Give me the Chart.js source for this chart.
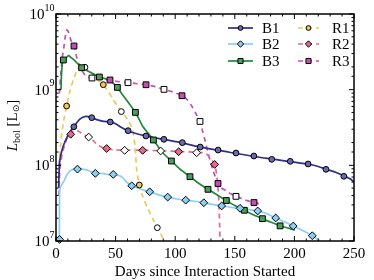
<!DOCTYPE html>
<html><head><meta charset="utf-8">
<script src="https://cdn.jsdelivr.net/npm/chart.js@4"></script>
<style>html,body{margin:0;padding:0;background:#fff}#wrap{width:374px;height:280px;position:relative}</style>
</head><body><div id="wrap"><canvas id="c"></canvas></div>
<script>
// ---------- data (days since interaction started, log10 of L_bol in L_sun) ----------
const seriesNames = ['B1','B2','B3','R1','R2','R3'];
const xTickLabels = [0,50,100,150,200,250];
const yTickExponents = [7,8,9,10];

const b1Days   = [2.2,3,5,8,12,15,20,25,30,35,40,45,50,55,60,67,75,82,90,98,105,113,120,128,135,143,150,158,165,173,181,189,197,205,212,220,227,235,242,247,250];
const b1LogLum = [7.7,8.04,8.2,8.33,8.45,8.51,8.61,8.648,8.63,8.6,8.58,8.575,8.55,8.5,8.46,8.42,8.39,8.365,8.344,8.32,8.30,8.27,8.245,8.22,8.20,8.18,8.16,8.14,8.12,8.10,8.084,8.065,8.048,8.03,8.014,7.985,7.947,7.905,7.86,7.82,7.78];
const b1MarkDays   = [15,30,45.5,60.5,75.5,90.5,106,121,136,151,166,181,196.5,211.5,226.5,241.5];
const b1MarkLogLum = [8.51,8.63,8.573,8.458,8.388,8.344,8.30,8.242,8.202,8.163,8.123,8.079,8.053,8.018,7.947,7.855];

const b2Days   = [2.8,3.0,3.5,5,7,9,12,15,18,22,26,30,35,40,45,50,54,57,59,63.5,70,78.6,86,93.7,101,108.8,116,124,131,139.5,147,154.4,162,169.2,177,184.3,192,199,207,215,221.5];
const b2LogLum = [7.0,7.6,7.7,7.75,7.8,7.87,7.93,7.95,7.96,7.95,7.94,7.91,7.895,7.89,7.875,7.87,7.86,7.82,7.78,7.735,7.69,7.65,7.61,7.58,7.555,7.54,7.525,7.506,7.485,7.463,7.445,7.432,7.415,7.397,7.36,7.304,7.25,7.198,7.14,7.07,7.0];
const b2MarkDays   = [3,18,33,48,63.5,78.6,93.7,108.8,124,139,154.4,169.2,184.3,199,215];
const b2MarkLogLum = [7.02,7.95,7.894,7.88,7.73,7.65,7.58,7.54,7.506,7.463,7.432,7.397,7.304,7.198,7.07];

const b3Days   = [4.2,4.6,5.5,7,9,10.6,13,16,19,21.5,25,30,36.4,42,46,51.5,55,59.3,63,66.6,70,73,77,81.7,86,90,96.8,104,112.4,120,127.5,135,142.9,150,158,165,173.2,180,188,195,200.5];
const b3LogLum = [9.0,9.2,9.36,9.40,9.43,9.449,9.42,9.38,9.33,9.30,9.26,9.22,9.167,9.14,9.11,9.03,8.95,8.86,8.78,8.70,8.60,8.51,8.43,8.335,8.24,8.16,8.057,7.95,7.85,7.76,7.683,7.61,7.535,7.47,7.406,7.35,7.295,7.25,7.202,7.17,7.145];
const b3MarkDays   = [6.2,21.5,36.4,51.5,66.6,81.7,96.8,112.4,127.5,142.9,158,173.2,188];
const b3MarkLogLum = [9.392,9.29,9.167,9.03,8.70,8.335,8.057,7.85,7.683,7.535,7.406,7.295,7.2];

const r1Days   = [2.5,4,6,8.9,12,15,18,21,24,28,33,36,39.7,44,48,52,54.8,58,61,63.5,65,66.3,67.7,69.9,73,77,81,85,88,90.6];
const r1LogLum = [8.0,8.3,8.55,8.784,9.0,9.15,9.27,9.33,9.30,9.24,9.17,9.12,9.066,8.97,8.87,8.77,8.71,8.65,8.58,8.5,8.40,8.25,7.94,7.74,7.58,7.43,7.3,7.176,7.09,7.0];
const r1MarkDays   = [8.9,24.3,39.7,54.8,69.9,85];
const r1MarkLogLum = [8.784,9.296,9.066,8.71,7.74,7.176];

const r2Days   = [2.3,2.8,4,6,8,10,12.3,14.5,17,20,24,27.4,31,35,39,42.5,48,57.6,72.7,87.8,102.9,118,124,127,130,133.1,135,136.5,137.3,137.6];
const r2LogLum = [7.6,7.8,8.05,8.2,8.3,8.38,8.42,8.455,8.465,8.44,8.40,8.374,8.33,8.27,8.235,8.222,8.205,8.2,8.2,8.192,8.183,8.172,8.165,8.14,8.08,8.012,7.85,7.55,7.2,7.0];
const r2MarkDays   = [12.3,27.4,42.5,57.6,72.7,87.8,102.9,118,133.1];
const r2MarkLogLum = [8.41,8.374,8.222,8.198,8.198,8.19,8.18,8.167,8.012];

const r3Days   = [2.8,4,5.5,6.5,8,9.2,10.5,12,14,15.5,17,19,21.5,24.6,27,30.2,35,40,45.3,52.6,60.5,68,75.5,83,90.6,98,105.7,110,114,117.5,120.8,123,125,127,129.2,132,136,139,143.2,147,151.3,156,161,166.3,172.6];
const r3LogLum = [8.95,9.2,9.45,9.55,9.72,9.79,9.76,9.68,9.59,9.55,9.45,9.35,9.26,9.19,9.165,9.154,9.145,9.135,9.128,9.105,9.093,9.078,9.065,9.04,9.004,8.97,8.92,8.87,8.78,8.68,8.58,8.45,8.33,8.2,8.07,7.92,7.76,7.7,7.66,7.62,7.59,7.56,7.53,7.508,7.485];
const r3MarkDays   = [15.1,30.2,45.3,60.4,75.5,90.6,105.7,120.8,135.9,151,166.1];
const r3MarkLogLum = [9.577,9.154,9.128,9.093,9.065,9.004,8.92,8.58,7.76,7.59,7.508];

// ---------- styles ----------
const FAM = "'Liberation Serif','DejaVu Serif','Times New Roman',serif";
const styles = {
  B1:{color:'#2e2e8c', fill:'#6a6ab0', alt:false, dash:[], marker:'circle'},
  B2:{color:'#8ccff2', fill:'#8ccff2', alt:false, dash:[], marker:'rectRot'},
  B3:{color:'#23883a', fill:'#4a9e5a', alt:false, dash:[], marker:'rect'},
  R1:{color:'#f0c860', fill:'#f0c860', alt:true, dash:[5,4], marker:'circle'},
  R2:{color:'#e46a88', fill:'#e46a88', alt:true, dash:[5,4], marker:'rectRot'},
  R3:{color:'#c24fb2', fill:'#c24fb2', alt:true, dash:[5,4], marker:'rect'}
};
const markerRadius = {circle:2.9, rect:4.1, rectRot:3.9};
const seriesData = {
  B1:[b1Days,b1LogLum,b1MarkDays,b1MarkLogLum],
  B2:[b2Days,b2LogLum,b2MarkDays,b2MarkLogLum],
  B3:[b3Days,b3LogLum,b3MarkDays,b3MarkLogLum],
  R1:[r1Days,r1LogLum,r1MarkDays,r1MarkLogLum],
  R2:[r2Days,r2LogLum,r2MarkDays,r2MarkLogLum],
  R3:[r3Days,r3LogLum,r3MarkDays,r3MarkLogLum]
};
const toPts = (xs, ls) => xs.map((d,i)=>({x:d, y:Math.pow(10, ls[i])}));

const lineSets = [], markSets = [];
seriesNames.forEach(n=>{
  const s = styles[n], [d,l,md,ml] = seriesData[n];
  lineSets.push({label:n, data:toPts(d,l), borderColor:s.color, borderWidth:1.7, borderDash:s.dash,
    pointRadius:0, tension:0.25, fill:false, order:10});
  markSets.push({label:n+' markers', data:toPts(md,ml), showLine:false, pointStyle:s.marker,
    pointRadius:markerRadius[s.marker], pointBorderColor:'#000', pointBorderWidth:1,
    pointBackgroundColor: ctx => (s.alt && ctx.dataIndex%2===1) ? '#ffffff' : s.fill,
    clip:8, order:1});
});

function drawMarker(ctx, style, x, y, r, fill){
  ctx.save(); ctx.fillStyle=fill; ctx.strokeStyle='#000'; ctx.lineWidth=1; ctx.setLineDash([]);
  ctx.beginPath();
  if (style==='circle') ctx.arc(x,y,r,0,Math.PI*2);
  else if (style==='rect'){ const h=r*Math.SQRT1_2; ctx.rect(x-h,y-h,2*h,2*h); }
  else { ctx.moveTo(x,y-r); ctx.lineTo(x+r,y); ctx.lineTo(x,y+r); ctx.lineTo(x-r,y); ctx.closePath(); }
  ctx.fill(); ctx.stroke(); ctx.restore();
}

const decorPlugin = {
  id:'decor',
  afterDraw(chart){
    const {ctx, chartArea:a, scales:{x,y}} = chart;
    ctx.save();
    ctx.strokeStyle='#000'; ctx.lineWidth=1;
    const seg=(x1,y1,x2,y2)=>{ctx.beginPath();ctx.moveTo(x1,y1);ctx.lineTo(x2,y2);ctx.stroke();};
    // x ticks (inward, mirrored)
    x.ticks.forEach(t=>{
      const px=x.getPixelForValue(t.value);
      const len = (t.value%50===0)?5:2.5;
      seg(px,a.bottom,px,a.bottom-len); seg(px,a.top,px,a.top+len);
    });
    // y ticks (inward, mirrored)
    y.ticks.forEach(t=>{
      if (t.value<1e7-1 || t.value>1e10+1) return;
      const e=Math.log10(t.value), major=Math.abs(e-Math.round(e))<1e-6;
      const py=y.getPixelForValue(t.value), len=major?5:2.5;
      seg(a.left,py,a.left+len,py); seg(a.right,py,a.right-len,py);
    });
    // frame
    ctx.lineWidth=1.5; ctx.strokeRect(a.left,a.top,a.right-a.left,a.bottom-a.top);
    // y tick labels 10^n
    ctx.fillStyle='#000'; ctx.textAlign='right'; ctx.textBaseline='middle';
    yTickExponents.forEach(ex=>{
      const py=y.getPixelForValue(Math.pow(10,ex));
      const es=String(ex);
      ctx.font='10px '+FAM; const ew=ctx.measureText(es).width;
      const xr=a.left-1.5;
      ctx.fillText(es, xr, py-6);
      ctx.font='15px '+FAM; ctx.fillText('10', xr-ew, py+1);
    });
    // y axis title: L_bol [L_sun]
    ctx.save();
    ctx.translate(13, (a.top+a.bottom)/2 - 2);
    ctx.rotate(-Math.PI/2);
    const parts=[['L','italic 15px '+FAM,0],['bol','10px '+FAM,4],[' [L','15px '+FAM,0],['\u2299','9px '+"'DejaVu Sans',sans-serif",4],[']','15px '+FAM,0]];
    let tw=0; parts.forEach(p=>{ctx.font=p[1]; tw+=ctx.measureText(p[0]).width;});
    let cx=-tw/2; ctx.textAlign='left'; ctx.textBaseline='middle';
    parts.forEach(p=>{ctx.font=p[1]; ctx.fillText(p[0],cx,p[2]); cx+=ctx.measureText(p[0]).width;});
    ctx.restore();
    // legend (two columns)
    const cols=[{x0:228,x1:253,tx:262},{x0:298,x1:319,tx:332}];
    const rows=[28,44,61];
    seriesNames.forEach((n,i)=>{
      const c=cols[Math.floor(i/3)], ry=rows[i%3], s=styles[n];
      ctx.save(); ctx.strokeStyle=s.color; ctx.lineWidth=1.7; ctx.setLineDash(s.dash);
      seg(c.x0,ry,c.x1,ry); ctx.restore();
      drawMarker(ctx, s.marker, (c.x0+c.x1)/2, ry, s.marker==='circle'?2.4:(s.marker==='rect'?3.6:3.2), s.fill);
      ctx.fillStyle='#000'; ctx.font='15px '+FAM; ctx.textAlign='left'; ctx.textBaseline='middle';
      ctx.fillText(n, c.tx, ry+1);
    });
    ctx.restore();
  }
};

new Chart(document.getElementById('c'), {
  type:'line',
  data:{datasets:[...markSets, ...lineSets]},
  options:{
    responsive:true, maintainAspectRatio:false, animation:false,
    layout:{padding:{top:14,right:20,left:0,bottom:0}},
    plugins:{legend:{display:false}, tooltip:{enabled:false}},
    scales:{
      x:{type:'linear', min:0, max:250,
        grid:{display:false, drawTicks:false}, border:{display:false},
        ticks:{stepSize:10, autoSkip:false, maxRotation:0, color:'#000', padding:4,
          font:{family:FAM, size:15},
          callback:v=> xTickLabels.includes(v) ? String(v) : ''},
        title:{display:true, text:'Days since Interaction Started', color:'#000',
          font:{family:FAM, size:15}, padding:{top:0,bottom:-1}},
        afterFit:s=>{s.height=39;}
      },
      y:{type:'logarithmic', min:1e7, max:1e10,
        grid:{display:false, drawTicks:false}, border:{display:false},
        ticks:{display:false},
        afterFit:s=>{s.width=56;}
      }
    }
  },
  plugins:[decorPlugin]
});
</script>
</body></html>
